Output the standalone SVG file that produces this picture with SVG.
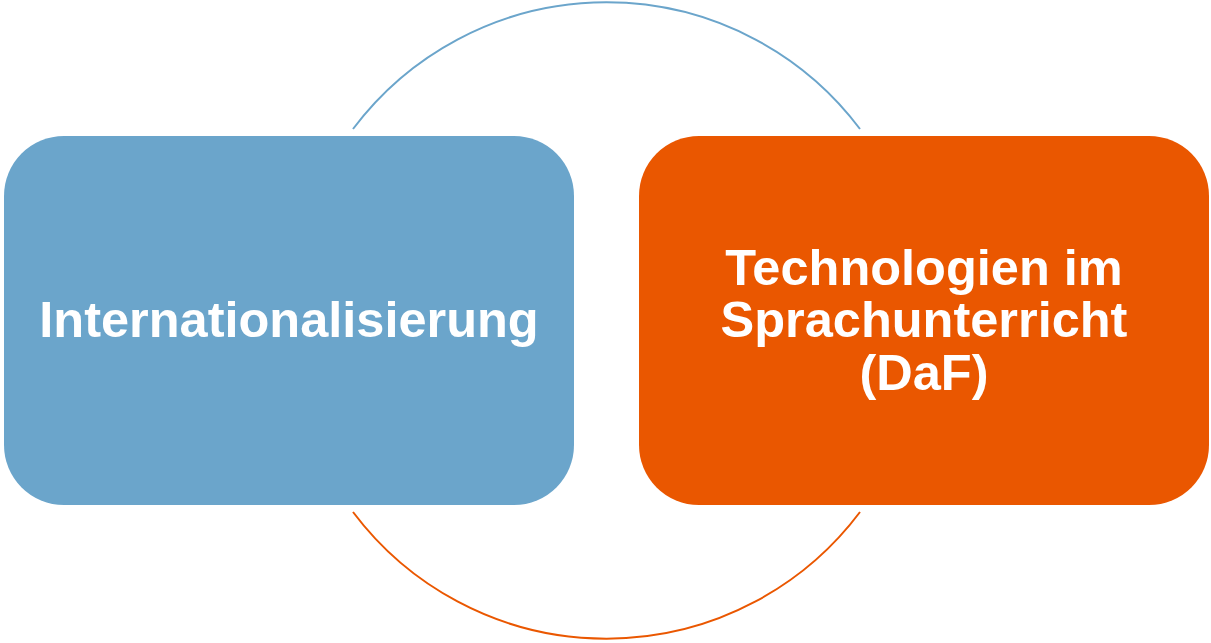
<svg xmlns="http://www.w3.org/2000/svg" width="1211" height="643" viewBox="0 0 1211 643">
<style>
.t{font-family:"Liberation Sans",Arial,sans-serif;font-weight:bold;font-size:50.5px;fill:#fff;text-anchor:middle}
</style>
<rect width="1211" height="643" fill="#fff"/>
<g id="connectors" fill="none" stroke-width="2">
<path d="M353,129 A317,317 0 0 1 860,129" stroke="#6BA5CB"/>
<path d="M860,512 A317,317 0 0 1 353,512" stroke="#EA5700"/>
</g>
<g id="node-internationalisierung">
<rect x="4" y="136" width="570" height="369" rx="60" fill="#6BA5CB"/>
<text class="t" x="289" y="337">Internationalisierung</text>
</g>
<g id="node-technologien">
<rect x="639" y="136" width="570" height="369" rx="60" fill="#EA5700"/>
<text class="t" x="924" y="285">Technologien im</text>
<text class="t" x="924" y="337">Sprachunterricht</text>
<text class="t" x="924" y="390">(DaF)</text>
</g>
</svg>
